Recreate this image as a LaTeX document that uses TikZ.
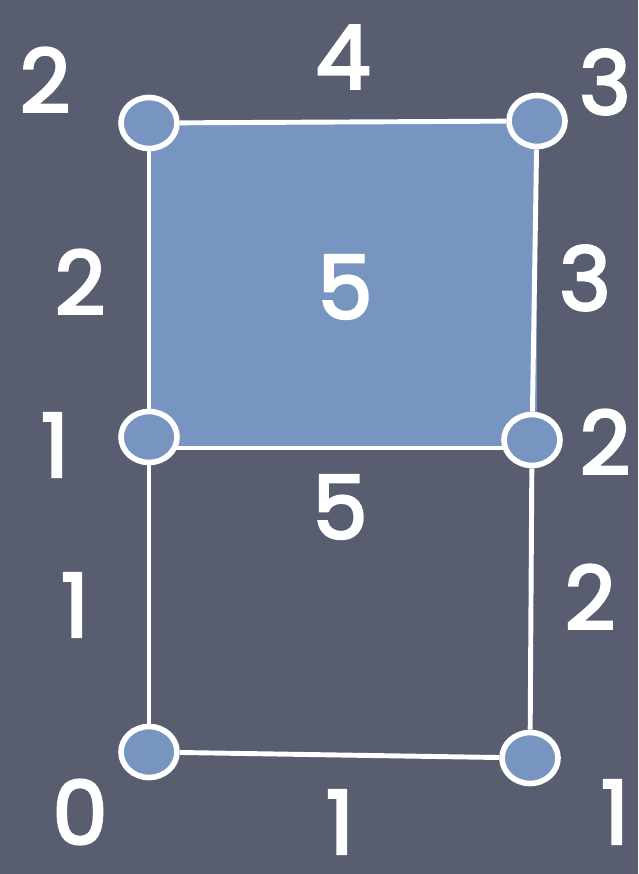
\documentclass[tikz,border=0pt]{standalone}
\usepackage{fontspec}
\setmainfont{Poppins}
\newfontfamily\numfont{Poppins}[FakeBold=3]
\usepackage{tikz}
\usetikzlibrary{shapes.geometric}
\definecolor{slate}{RGB}{88,94,112}
\definecolor{cellblue}{RGB}{120,149,193}

\begin{document}
\begin{tikzpicture}[x=0.02cm,y=-0.02cm]
\tikzset{vtx/.style={ellipse,draw=white,line width=3.2pt,fill=cellblue,minimum width=1.12cm,minimum height=1.02cm},
  edge/.style={white,line width=2.8pt},
  num/.style={text=white,inner sep=0pt,font=\fontsize{50}{50}\numfont}}
\fill[slate] (0,0) rectangle (638,874);
\coordinate (c1) at (150,123);
\coordinate (c2) at (537,448);
\fill[cellblue] (c1) rectangle (c2);
\coordinate (m1) at (150,448);
\coordinate (m2) at (532,448);
\draw[edge] (m1) -- (m2);
\node[vtx] (a) at (149,123) {};
\node[vtx] (b) at (537,121) {};
\node[vtx] (c) at (149,437) {};
\node[vtx] (d) at (532,440) {};
\node[vtx] (e) at (149,752) {};
\node[vtx] (f) at (530,758) {};
\draw[edge] (a) -- (b);
\draw[edge] (a) -- (c);
\draw[edge] (b) -- (d);
\draw[edge] (c) -- (e);
\draw[edge] (d) -- (f);
\draw[edge] (e) -- (f);
% vertex values
\node[num] (la) at (45,80) {2};
\node[num] (lb) at (605,82) {3};
\node[num] (lc) at (55,445) {1};
\node[num] (ld) at (605,442) {2};
\node[num] (le) at (80,812) {0};
\node[num] (lf) at (615,812) {1};
% edge values
\node[num] (lab) at (343,57) {4};
\node[num] (lac) at (80,282) {2};
\node[num] (lbd) at (585,278) {3};
\node[num] (lcd) at (340,507) {5};
\node[num] (lce) at (75,605) {1};
\node[num] (ldf) at (590,597) {2};
\node[num] (lef) at (340,822) {1};
% cell value
\node[num] (cell) at (345,287) {5};
\end{tikzpicture}
\end{document}
